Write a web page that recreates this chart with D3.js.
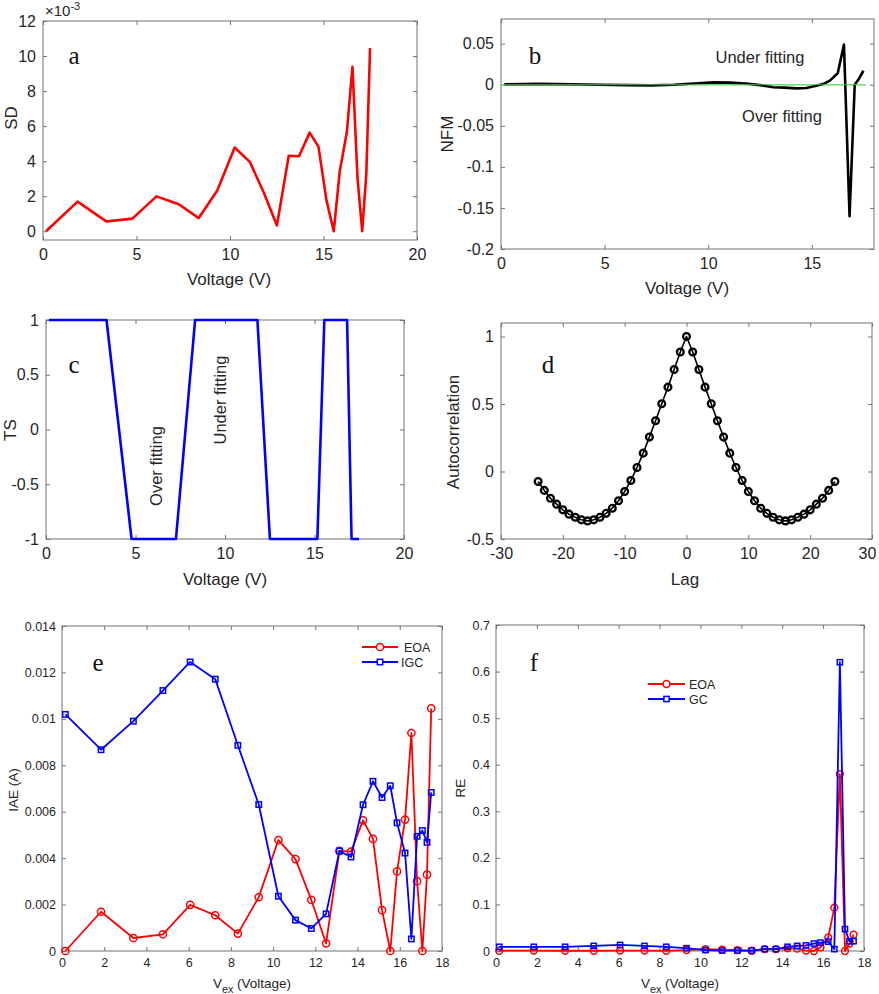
<!DOCTYPE html>
<html><head><meta charset="utf-8">
<script src="https://cdn.jsdelivr.net/npm/d3@7"></script>
<style>
body{margin:0;background:#fff}
svg{display:block}
text{font-family:"Liberation Sans",Arial,sans-serif;fill:#262626}
.serif{font-family:"Liberation Serif","Times New Roman",serif;fill:#111}
</style>
</head><body>
<svg id="c" width="879" height="994"></svg>
<script>
// ---------------- data ----------------
const voltage = [0.16,1.85,3.38,4.78,6.07,7.26,8.33,9.32,10.25,11.06,11.81,12.51,13.14,13.69,14.26,14.73,15.16,15.55,15.87,16.25,16.55,16.82,17.07,17.29,17.49];
// panel a: SD (x10^-3)
const sdE3 = [0,1.69,0.56,0.72,1.99,1.54,0.75,2.32,4.78,3.96,2.2,0.33,4.31,4.28,5.63,4.83,1.76,0,3.43,5.66,9.39,3.01,0,3.29,10.45];
// panel b: NFM
const nfm = [0.0005,0.001,0.0005,0,-0.0005,-0.0008,0,0.0015,0.0028,0.0025,0.0015,-0.0005,-0.003,-0.0035,-0.0045,-0.004,-0.0015,0.0008,0.005,0.014,0.049,-0.16,0.0,0.008,0.017];
// panel c: TS
const ts = [1,1,1,-1,-1,-1,1,1,1,1,1,-1,-1,-1,-1,-1,-1,1,1,1,1,1,-1,-1,-1];
// panel d: autocorrelation
const lags = [-24,-23,-22,-21,-20,-19,-18,-17,-16,-15,-14,-13,-12,-11,-10,-9,-8,-7,-6,-5,-4,-3,-2,-1,0,1,2,3,4,5,6,7,8,9,10,11,12,13,14,15,16,17,18,19,20,21,22,23,24];
const acf = [-0.074,-0.14,-0.198,-0.242,-0.284,-0.316,-0.339,-0.358,-0.366,-0.358,-0.339,-0.31,-0.272,-0.217,-0.148,-0.067,0.03,0.136,0.255,0.376,0.502,0.625,0.756,0.885,1.0,0.885,0.756,0.625,0.502,0.376,0.255,0.136,0.03,-0.067,-0.148,-0.217,-0.272,-0.31,-0.339,-0.358,-0.366,-0.358,-0.339,-0.316,-0.284,-0.242,-0.198,-0.14,-0.074];
// panel e: IAE (A)
const iaeEOA = [0,0.00169,0.00056,0.00072,0.00199,0.00154,0.00075,0.00232,0.00478,0.00396,0.0022,0.00033,0.00431,0.00428,0.00563,0.00483,0.00176,0,0.00343,0.00566,0.00939,0.00301,0,0.00329,0.01045];
const iaeIGC = [0.01019,0.00867,0.0099,0.01122,0.01245,0.01171,0.00886,0.00631,0.00236,0.00133,0.00097,0.0016,0.00431,0.00405,0.0063,0.00731,0.00661,0.00712,0.00552,0.00422,0.00052,0.00494,0.00519,0.00468,0.00683];
// panel f: RE
const reEOA = [0.0005,0.001,0.0005,0.0005,0.001,0.001,0.0005,0.002,0.004,0.003,0.002,0.0005,0.004,0.004,0.006,0.005,0.001,0,0.008,0.029,0.093,0.38,0,0.016,0.035];
const reGC = [0.009,0.009,0.009,0.011,0.013,0.011,0.009,0.006,0.002,0.001,0.001,0.001,0.004,0.004,0.009,0.011,0.012,0.016,0.018,0.02,0.004,0.62,0.047,0.021,0.021];

// tick values
const ticksA_x = [0,5,10,15,20], ticksA_y = [0,2,4,6,8,10,12];
const ticksB_x = [0,5,10,15], ticksB_y = [-0.2,-0.15,-0.1,-0.05,0,0.05];
const ticksC_x = [0,5,10,15,20], ticksC_y = [-1,-0.5,0,0.5,1];
const ticksD_x = [-30,-20,-10,0,10,20,30], ticksD_y = [-0.5,0,0.5,1];
const ticksE_x = [0,2,4,6,8,10,12,14,16,18], ticksE_y = [0,0.002,0.004,0.006,0.008,0.01,0.012,0.014];
const ticksF_x = [0,2,4,6,8,10,12,14,16,18], ticksF_y = [0,0.1,0.2,0.3,0.4,0.5,0.6,0.7];

// ---------------- drawing ----------------
const svg = d3.select("#c");
const fmt = d => String(+(+d).toFixed(4));
const AXC = "#737373";

function panel(o){
  const x = d3.scaleLinear().domain(o.xdom).range([o.l, o.r]);
  const y = d3.scaleLinear().domain(o.ydom).range([o.b, o.t]);
  const g = svg.append("g");
  const tl = 4;
  const style = sel => {
    sel.select(".domain").remove();
    sel.selectAll(".tick line").attr("stroke", AXC);
    sel.selectAll("text").attr("fill","#262626").style("font-size", o.fs+"px")
       .style("font-family",'"Liberation Sans",Arial,sans-serif');
  };
  g.append("rect").attr("x",o.l).attr("y",o.t).attr("width",o.r-o.l).attr("height",o.b-o.t)
   .attr("fill","none").attr("stroke",AXC).attr("stroke-width",1);
  const bx = g.append("g").attr("transform",`translate(0,${o.b})`)
   .call(d3.axisBottom(x).tickValues(o.xt).tickFormat(fmt).tickSizeInner(-tl).tickSizeOuter(0).tickPadding(o.xpad)).call(style);
  if(o.lastShift) bx.selectAll(".tick text").filter((d,i,n)=>i===n.length-1).attr("dx", -o.lastShift);
  g.append("g").attr("transform",`translate(0,${o.t})`)
   .call(d3.axisTop(x).tickValues(o.xt).tickFormat("").tickSizeInner(-tl).tickSizeOuter(0)).call(style);
  g.append("g").attr("transform",`translate(${o.l},0)`)
   .call(d3.axisLeft(y).tickValues(o.yt).tickFormat(o.yfmt||fmt).tickSizeInner(-tl).tickSizeOuter(0).tickPadding(o.ypad)).call(style);
  g.append("g").attr("transform",`translate(${o.r},0)`)
   .call(d3.axisRight(y).tickValues(o.yt).tickFormat("").tickSizeInner(-tl).tickSizeOuter(0)).call(style);
  return {x, y, g};
}
function line(p, xs, ys, color, w){
  p.g.append("path").datum(xs.map((v,i)=>[v,ys[i]]))
   .attr("d", d3.line().x(d=>p.x(d[0])).y(d=>p.y(d[1])))
   .attr("fill","none").attr("stroke",color).attr("stroke-width",w).attr("stroke-linejoin","round");
}
function circles(p, xs, ys, color, r, w){
  p.g.append("g").selectAll("circle").data(xs.map((v,i)=>[v,ys[i]])).join("circle")
   .attr("cx",d=>p.x(d[0])).attr("cy",d=>p.y(d[1])).attr("r",r)
   .attr("fill","none").attr("stroke",color).attr("stroke-width",w);
}
function squares(p, xs, ys, color, s, w){
  p.g.append("g").selectAll("rect").data(xs.map((v,i)=>[v,ys[i]])).join("rect")
   .attr("x",d=>p.x(d[0])-s/2).attr("y",d=>p.y(d[1])-s/2).attr("width",s).attr("height",s)
   .attr("fill","none").attr("stroke",color).attr("stroke-width",w);
}
function txt(x, y, s, size, opts={}){
  const t = svg.append("text").attr("x",x).attr("y",y).text(s).style("font-size",size+"px")
    .attr("text-anchor", opts.anchor||"middle");
  if(opts.rot) t.attr("transform",`rotate(${opts.rot},${x},${y})`);
  if(opts.cls) t.attr("class",opts.cls);
  return t;
}
function vexLabel(x, y, size){
  const t = svg.append("text").attr("x",x).attr("y",y).attr("text-anchor","middle").style("font-size",size+"px");
  t.append("tspan").text("V");
  t.append("tspan").attr("dy",5).style("font-size",(size*0.8)+"px").text("ex");
  t.append("tspan").attr("dy",-5).text(" (Voltage)");
}

// Panel a
const pa = panel({l:43,r:417,t:21,b:240,xdom:[0,20],ydom:[-0.5,12],xt:ticksA_x,yt:ticksA_y,fs:16,xpad:9,ypad:7});
line(pa, voltage, sdE3, "#ff0000", 2.6);
txt(229, 285, "Voltage (V)", 17);
txt(17, 118, "SD", 17, {rot:-90});
const mult = svg.append("text").attr("x",45).attr("y",16).style("font-size","15px");
mult.append("tspan").text("\u00d710");
mult.append("tspan").attr("dy",-6).style("font-size","11px").text("-3");
txt(74, 64, "a", 25, {cls:"serif"});

// Panel b
const pb = panel({l:501,r:874,t:19,b:249,xdom:[0,18],ydom:[-0.2,0.08],xt:ticksB_x,yt:ticksB_y,fs:16,xpad:9,ypad:7});
pb.g.append("line").attr("x1",pb.x(0)).attr("x2",pb.x(17.6)).attr("y1",pb.y(0)).attr("y2",pb.y(0))
  .attr("stroke","#6fe06f").attr("stroke-width",1.6);
line(pb, voltage, nfm, "#000", 2.6);
pb.g.append("line").attr("x1",pb.x(0)).attr("x2",pb.x(17.6)).attr("y1",pb.y(0)).attr("y2",pb.y(0))
  .attr("stroke","#6fe06f").attr("stroke-width",1.2).attr("opacity",0.6);
txt(687, 294, "Voltage (V)", 17);
txt(453, 134, "NFM", 17, {rot:-90});
txt(760, 63, "Under fitting", 16.5);
txt(782, 122, "Over fitting", 16.5);
txt(535, 64, "b", 25, {cls:"serif"});

// Panel c
const pc = panel({l:46,r:404,t:320,b:539,xdom:[0,20],ydom:[-1,1],xt:ticksC_x,yt:ticksC_y,fs:16,xpad:9,ypad:7});
line(pc, voltage, ts, "#0000ff", 2.6);
txt(225, 585, "Voltage (V)", 17);
txt(16, 430, "TS", 17, {rot:-90});
txt(162, 466, "Over fitting", 16.5, {rot:-90});
txt(226, 400, "Under fitting", 16.5, {rot:-90});
txt(74, 373, "c", 25, {cls:"serif"});

// Panel d
const pd = panel({l:501,r:872,t:323,b:539,xdom:[-30,30],ydom:[-0.5,1.1],xt:ticksD_x,yt:ticksD_y,fs:16,xpad:9,ypad:7,lastShift:5});
line(pd, lags, acf, "#000", 1.6);
circles(pd, lags, acf, "#000", 3.4, 2.3);
txt(685, 585, "Lag", 17);
txt(459, 432, "Autocorrelation", 17, {rot:-90});
txt(548, 373, "d", 25, {cls:"serif"});

// Panel e
const pe = panel({l:62,r:442,t:626,b:951,xdom:[0,18],ydom:[0,0.014],xt:ticksE_x,yt:ticksE_y,fs:12.5,xpad:7,ypad:6});
line(pe, voltage, iaeEOA, "#ff0000", 1.8);
circles(pe, voltage, iaeEOA, "#ff0000", 3.6, 1.5);
line(pe, voltage, iaeIGC, "#0000ff", 1.8);
squares(pe, voltage, iaeIGC, "#0000ff", 5.4, 1.5);
vexLabel(252, 988, 13.5);
txt(18, 790, "IAE (A)", 13.5, {rot:-90});
txt(98, 671, "e", 25, {cls:"serif"});
// legend e
svg.append("line").attr("x1",362).attr("x2",398).attr("y1",647).attr("y2",647).attr("stroke","#ff0000").attr("stroke-width",1.8);
svg.append("circle").attr("cx",380).attr("cy",647).attr("r",3.6).attr("fill","#fff").attr("stroke","#ff0000").attr("stroke-width",1.5);
svg.append("line").attr("x1",362).attr("x2",398).attr("y1",662).attr("y2",662).attr("stroke","#0000ff").attr("stroke-width",1.8);
svg.append("rect").attr("x",377.3).attr("y",659.3).attr("width",5.4).attr("height",5.4).attr("fill","#fff").attr("stroke","#0000ff").attr("stroke-width",1.5);
txt(404, 651.5, "EOA", 12.5, {anchor:"start"});
txt(401, 666.5, "IGC", 12.5, {anchor:"start"});

// Panel f
const pf = panel({l:496,r:864,t:625,b:951,xdom:[0,18],ydom:[0,0.7],xt:ticksF_x,yt:ticksF_y,fs:12.5,xpad:7,ypad:6});
line(pf, voltage, reEOA, "#ff0000", 1.8);
circles(pf, voltage, reEOA, "#ff0000", 3.4, 1.5);
line(pf, voltage, reGC, "#0000ff", 1.8);
squares(pf, voltage, reGC, "#0000ff", 5.2, 1.5);
vexLabel(680, 988, 13.5);
txt(465, 788, "RE", 13.5, {rot:-90});
txt(534, 671, "f", 25, {cls:"serif"});
// legend f
svg.append("line").attr("x1",648).attr("x2",685).attr("y1",684).attr("y2",684).attr("stroke","#ff0000").attr("stroke-width",1.8);
svg.append("circle").attr("cx",666.5).attr("cy",684).attr("r",3.4).attr("fill","#fff").attr("stroke","#ff0000").attr("stroke-width",1.5);
svg.append("line").attr("x1",648).attr("x2",685).attr("y1",699).attr("y2",699).attr("stroke","#0000ff").attr("stroke-width",1.8);
svg.append("rect").attr("x",663.9).attr("y",696.4).attr("width",5.2).attr("height",5.2).attr("fill","#fff").attr("stroke","#0000ff").attr("stroke-width",1.5);
txt(689, 688.5, "EOA", 12.5, {anchor:"start"});
txt(689, 703.5, "GC", 12.5, {anchor:"start"});
</script>
</body></html>
